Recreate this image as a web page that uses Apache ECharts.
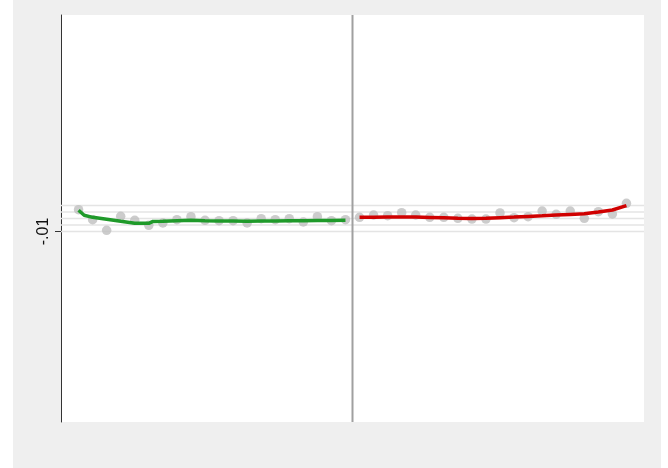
<!DOCTYPE html>
<html>
<head>
<meta charset="utf-8">
<script src="https://cdn.jsdelivr.net/npm/echarts@6/dist/echarts.min.js"></script>
<style>
  html, body { margin: 0; padding: 0; background: #ffffff; }
  #chart { position: absolute; left: 13px; top: 0; width: 648px; height: 468px; }
</style>
</head>
<body>
<div id="chart"></div>
<script>
// Bin midpoints of the running variable (cutoff at 0) and the binned outcome means
const leftBinX = [-19.5, -18.5, -17.5, -16.5, -15.5, -14.5, -13.5, -12.5, -11.5, -10.5,
                  -9.5, -8.5, -7.5, -6.5, -5.5, -4.5, -3.5, -2.5, -1.5, -0.5];
const leftMeans = [-0.00665, -0.00818, -0.00982, -0.00766, -0.00828, -0.00905, -0.00869, -0.00818, -0.00772, -0.00828,
                   -0.00834, -0.00834, -0.00869, -0.00803, -0.00818, -0.00803, -0.00854, -0.00772, -0.00834, -0.00818];
const rightBinX = [0.5, 1.5, 2.5, 3.5, 4.5, 5.5, 6.5, 7.5, 8.5, 9.5,
                   10.5, 11.5, 12.5, 13.5, 14.5, 15.5, 16.5, 17.5, 18.5, 19.5];
const rightMeans = [-0.00782, -0.00746, -0.00757, -0.00711, -0.00746, -0.00782, -0.00782, -0.00797, -0.00808, -0.00808,
                    -0.00715, -0.00788, -0.00772, -0.00685, -0.00735, -0.00685, -0.00797, -0.00695, -0.00731, -0.00566];

// Fitted polynomial on each side of the cutoff
const leftFitX = [-19.5, -19.1, -18.5, -17.5, -16.5, -15.5, -14.5, -14.2, -13.5, -12.5, -11.5, -10.5,
                  -9.5, -8.5, -7.5, -6.5, -5.5, -4.5, -3.5, -2.5, -1.5, -0.5];
const leftFit = [-0.00674, -0.00751, -0.00782, -0.00811, -0.00843, -0.00874, -0.00874, -0.00845, -0.00843, -0.00834, -0.00828, -0.00834,
                 -0.00838, -0.00838, -0.00843, -0.00838, -0.00838, -0.00834, -0.00834, -0.00831, -0.00831, -0.00828];
const rightFitX = [0.5, 1.5, 2.5, 3.5, 4.5, 5.5, 6.5, 7.5, 8.5, 9.5,
                   10.5, 11.5, 12.5, 13.5, 14.5, 15.5, 16.5, 17.5, 18.5, 19.5];
const rightFit = [-0.007815, -0.00780, -0.00777, -0.007754, -0.007785, -0.007831, -0.007892, -0.007954, -0.007985, -0.00797,
                  -0.007877, -0.007785, -0.007677, -0.007585, -0.007477, -0.007369, -0.007262, -0.00700, -0.006692, -0.006031];

// Axis ticks, labels and reference lines
const yGridValues = [-0.01, -0.009, -0.008, -0.007, -0.006];
const yTickValues = [-0.01];
const yTickLabels = ['-.01'];
const cutoff = 0;
const xMin = -20.75, xMax = 20.75;
const yMin = -0.0393, yMax = 0.0233;

const pairs = (xs, ys) => xs.map((x, i) => [x, ys[i]]);

// Horizontal grid lines, each drawn as a plain two-point line across the plot
const gridSeries = yGridValues.map(v => ({
  type: 'line', silent: true, showSymbol: false, z: 1,
  data: [[xMin, v], [xMax, v]],
  lineStyle: { color: '#e4e4e4', width: 1.3 }
}));

const chart = echarts.init(document.getElementById('chart'), null, { renderer: 'canvas' });
chart.setOption({
  backgroundColor: '#efefef',
  animation: false,
  grid: {
    left: 48, right: 17, top: 15, bottom: 46,
    show: true, backgroundColor: '#ffffff', borderWidth: 0
  },
  xAxis: {
    type: 'value', min: xMin, max: xMax,
    axisLine: { show: false }, axisTick: { show: false },
    axisLabel: { show: false }, splitLine: { show: false }
  },
  yAxis: {
    type: 'value', min: yMin, max: yMax,
    axisLine: { show: true, onZero: false, lineStyle: { color: '#333333', width: 1 } },
    axisTick: { show: true, length: 6, customValues: yTickValues, lineStyle: { color: '#333333', width: 1 } },
    axisLabel: {
      show: true, customValues: yTickValues, rotate: 90, margin: 9,
      fontFamily: 'Liberation Sans, Arial, sans-serif', fontSize: 16, color: '#111111',
      formatter: v => yTickLabels[yTickValues.indexOf(v)] ?? ''
    },
    splitLine: { show: false }
  },
  series: [
    ...gridSeries,
    {
      name: 'cutoff', type: 'line', silent: true, showSymbol: false, z: 2,
      data: [[cutoff, yMin], [cutoff, yMax]],
      lineStyle: { color: '#a0a0a0', width: 2 }
    },
    {
      name: 'left bins', type: 'scatter', data: pairs(leftBinX, leftMeans),
      symbol: 'circle', symbolSize: 9.5, itemStyle: { color: '#bfbfbf' }, z: 3
    },
    {
      name: 'right bins', type: 'scatter', data: pairs(rightBinX, rightMeans),
      symbol: 'circle', symbolSize: 9.5, itemStyle: { color: '#bfbfbf' }, z: 3
    },
    {
      name: 'left fit', type: 'line', data: pairs(leftFitX, leftFit),
      showSymbol: false, lineStyle: { color: '#1f9a2a', width: 3.5 }, z: 4
    },
    {
      name: 'right fit', type: 'line', data: pairs(rightFitX, rightFit),
      showSymbol: false, lineStyle: { color: '#d00000', width: 3.5 }, z: 4
    }
  ]
});
</script>
</body>
</html>
